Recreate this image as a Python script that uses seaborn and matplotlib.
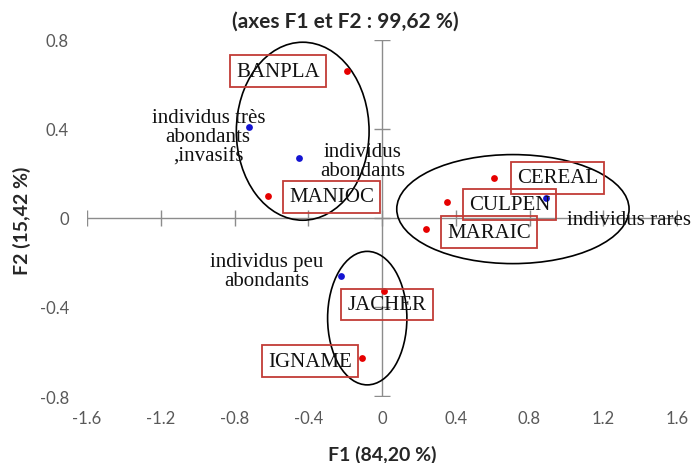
import numpy as np
import pandas as pd
import matplotlib
matplotlib.use('Agg')
import matplotlib.pyplot as plt
import seaborn as sns
from matplotlib.patches import Ellipse

# modalities (red points with boxed labels)
modalities = ['BANPLA', 'MANIOC', 'CEREAL', 'CULPEN', 'MARAIC', 'JACHER', 'IGNAME']
mod_f1 = [-0.19, -0.62, 0.61, 0.35, 0.24, 0.01, -0.11]
mod_f2 = [0.66, 0.10, 0.18, 0.07, -0.05, -0.33, -0.63]

# abundance groups (blue points)
groups = ['individus très\nabondants\n,invasifs', 'individus\nabondants',
          'individus rares', 'individus peu\nabondants']
grp_f1 = [-0.72, -0.45, 0.89, -0.22]
grp_f2 = [0.41, 0.27, 0.09, -0.26]

# hand-drawn clusters: centre, width, height (axis units)
clu_f1 = [-0.43, 0.71, -0.08]
clu_f2 = [0.39, 0.04, -0.45]
clu_w = [0.72, 1.26, 0.43]
clu_h = [0.80, 0.49, 0.60]

x_ticks = [-1.6, -1.2, -0.8, -0.4, 0, 0.4, 0.8, 1.2, 1.6]
x_labels = ['-1.6', '-1.2', '-0.8', '-0.4', '0', '0.4', '0.8', '1.2', '1.6']
y_ticks = [-0.8, -0.4, 0, 0.4, 0.8]
y_labels = ['-0.8', '-0.4', '0', '0.4', '0.8']

# label offsets (pixels)
mod_dx = [-69, 64, 63, 63, 63, 3, -52]
mod_dy = [0, -1, 0, -2, -3, -13, -3]
grp_dx = [-41, 64, 21, -75]
grp_dy = [-10, -3, -22, 5]
grp_ha = ['center', 'center', 'left', 'center']

sns.set_style('white')
plt.rcParams['font.family'] = ['Lato', 'DejaVu Sans']

fig = plt.figure(figsize=(6.93, 4.64), dpi=100)
ax = fig.add_axes([87/693, 1 - 397/464, 590/693, 356/464])

axis_col = '#8c8c8c'
ax.axhline(0, color=axis_col, lw=1, zorder=1)
ax.axvline(0, color=axis_col, lw=1, zorder=1)
ax.plot(x_ticks, np.zeros(len(x_ticks)), ls='none', marker='|', ms=12, mew=1, color=axis_col, zorder=1)
ax.plot(np.zeros(len(y_ticks)), y_ticks, ls='none', marker='_', ms=12, mew=1, color=axis_col, zorder=1)

for cx, cy, w, h in zip(clu_f1, clu_f2, clu_w, clu_h):
    ax.add_patch(Ellipse((cx, cy), w, h, fill=False, ec='black', lw=1.2, zorder=2))

df_mod = pd.DataFrame({'F1': mod_f1, 'F2': mod_f2, 'nom': modalities})
df_grp = pd.DataFrame({'F1': grp_f1, 'F2': grp_f2, 'nom': groups})
sns.scatterplot(data=df_mod, x='F1', y='F2', color='#e60000', s=24, linewidth=0, ax=ax, zorder=4)
sns.scatterplot(data=df_grp, x='F1', y='F2', color='#1414d2', s=24, linewidth=0, ax=ax, zorder=4)

serif = 'Liberation Serif'
for name, x, y, dx, dy in zip(modalities, mod_f1, mod_f2, mod_dx, mod_dy):
    ax.annotate(name, (x, y), xytext=(dx, dy), textcoords='offset pixels',
                ha='center', va='center', fontfamily=serif, fontsize=15, color='#111111',
                bbox=dict(boxstyle='square,pad=0.3', fc='none', ec='#c23b36', lw=1.3),
                zorder=5)

for name, x, y, dx, dy, ha in zip(groups, grp_f1, grp_f2, grp_dx, grp_dy, grp_ha):
    ax.annotate(name, (x, y), xytext=(dx, dy), textcoords='offset pixels',
                ha=ha, va='center', multialignment='center', linespacing=1.05,
                fontfamily=serif, fontsize=15, color='#111111', zorder=5,
                annotation_clip=False)

ax.set_xlim(-1.6, 1.6)
ax.set_ylim(-0.8, 0.8)
ax.set_xticks(x_ticks)
ax.set_xticklabels(x_labels)
ax.set_yticks(y_ticks)
ax.set_yticklabels(y_labels)
ax.tick_params(axis='both', length=0, labelsize=12, labelcolor='#595959')
ax.tick_params(axis='x', pad=10)
ax.tick_params(axis='y', pad=13)
for s in ax.spines.values():
    s.set_visible(False)
ax.set_facecolor('white')

ax.set_xlabel('F1 (84,20 %)', fontsize=14, fontweight='bold', color='#262626')
ax.xaxis.set_label_coords(0.5, (397 - 455) / 356)
ax.xaxis.label.set_va('center')
ax.set_ylabel('F2 (15,42 %)', fontsize=14, fontweight='bold', color='#262626')
ax.yaxis.set_label_coords((22 - 87) / 590, (397 - 221) / 356)
ax.yaxis.label.set_va('center')

fig.text(345.5 / 693, 1 - 21.7 / 464, '(axes F1 et F2 : 99,62 %)', ha='center', va='center',
         fontsize=15, fontweight='bold', color='#262626')

fig.savefig('out.png', dpi=100, facecolor='white')
